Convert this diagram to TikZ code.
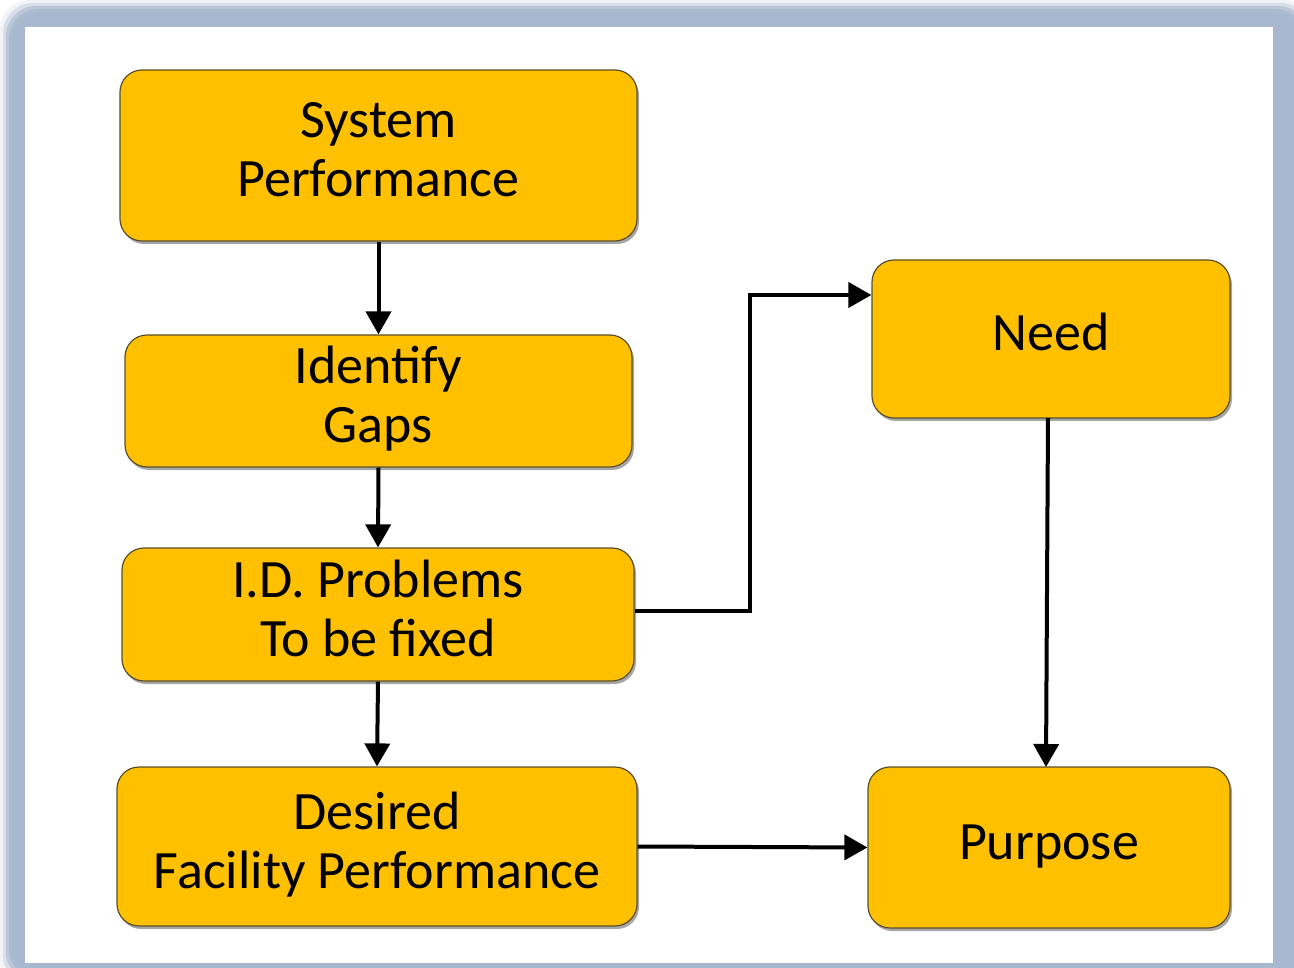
\documentclass[tikz,border=0pt]{standalone}
\usepackage{fontspec}
\setmainfont{Carlito}
\usetikzlibrary{arrows.meta,shadows}
\definecolor{boxfill}{RGB}{255,192,0}
\definecolor{boxedge}{RGB}{90,80,40}
\definecolor{frame}{RGB}{168,184,206}
\tikzset{
  fbox/.style={draw=boxedge, line width=1.2pt, fill=boxfill, rounded corners=22pt,
    align=center, inner sep=0pt, font=\fontsize{54}{59}\selectfont,
    text height=38pt, text depth=14pt,
    drop shadow={shadow xshift=2pt, shadow yshift=-3pt, opacity=0.35, fill=black}},
  twoline/.style={text height=97pt},
  arr/.style={line width=4pt, -{Triangle[length=23pt,width=25pt]}}
}
\begin{document}
\begin{tikzpicture}[x=1pt,y=-1pt]
\useasboundingbox (0,0) rectangle (1294,968);
\fill[white] (0,0) rectangle (1294,968);
\foreach \i/\o in {0/0.15,3/0.35,6/0.6,9/0.85,12/1} {
  \fill[frame, opacity=\o, rounded corners=30pt] (\i,\i) rectangle (1294+20-\i,968+20-\i);
}
\fill[white] (25,27) rectangle (1273,963);
% boxes
\node[fbox, twoline, minimum width=517pt, minimum height=171pt] (sp) at (378.5,155.5) {System\\Performance};
\node[fbox, twoline, minimum width=507pt, minimum height=132pt] (ig) at (378.5,401) {Identify\\Gaps};
\node[fbox, twoline, minimum width=512pt, minimum height=133pt] (idp) at (378,614.5) {I.D. Problems\\To be fixed};
\node[fbox, twoline, minimum width=520pt, minimum height=159pt] (dfp) at (377,846.5) {Desired\\Facility Performance};
\node[fbox, minimum width=358pt, minimum height=158pt] (need) at (1051,339) {Need};
\node[fbox, minimum width=362pt, minimum height=161pt] (purp) at (1049,847.5) {Purpose};
% connectors
\draw[arr] (sp.south) -- (ig.north);
\draw[arr] (ig.south) -- (idp.north);
\draw[arr] (idp.south) -- (dfp.north);
\coordinate (c1) at (750,611);
\coordinate (c2) at (750,295);
\draw[arr] (idp.east |- c1) -- (c1) -- (c2) -- (need.west |- c2);
\draw[arr] (1048,418) -- (1046,767);
\draw[arr] (dfp.east) -- (purp.west);
\end{tikzpicture}
\end{document}
